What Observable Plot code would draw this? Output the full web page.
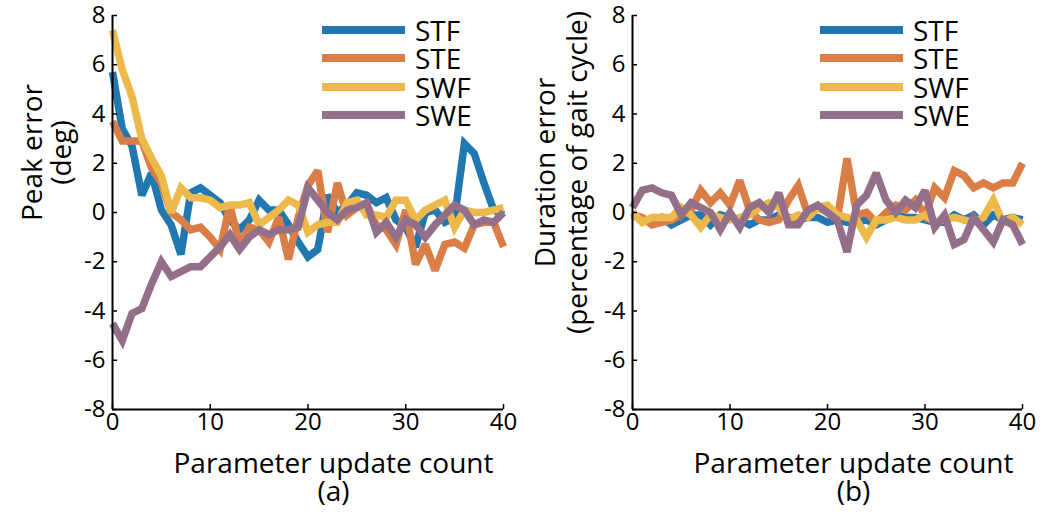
<!DOCTYPE html>
<html><head><meta charset="utf-8">
<script src="https://cdn.jsdelivr.net/npm/d3@7"></script>
<script src="https://cdn.jsdelivr.net/npm/@observablehq/plot@0.6"></script>
<style>
body{margin:0;background:#fff;}
#wrap{display:flex;width:1047px;height:512px;position:relative;}
.panel{position:relative;}
.legend{position:absolute;font-family:"Open Sans",sans-serif;font-size:28px;line-height:26px;color:#000;}
.row{display:flex;align-items:center;height:28.3px;}
.row span{display:block;line-height:26px;height:26px;}
.sw{width:83px;height:8px;margin-right:10px;}
</style>
</head><body><div id="wrap"></div>
<script>
const counts = [0,1,2,3,4,5,6,7,8,9,10,11,12,13,14,15,16,17,18,19,20,21,22,23,24,25,26,27,28,29,30,31,32,33,34,35,36,37,38,39,40];
const seriesNames = ["STF","STE","SWF","SWE"];
const seriesColors = ["#2177b0","#d97e47","#eeb94b","#946f89"];
const yTicks = [-8,-6,-4,-2,0,2,4,6,8];
const xTicks = [0,10,20,30,40];

// Panel (a): peak error (deg)
const peakSTF = [5.7,3.4,2.7,0.7,1.6,0.1,-0.5,-1.7,0.8,1.0,0.7,0.4,-0.3,-0.7,-0.3,0.5,0.1,0.1,-0.5,-1.2,-1.8,-1.5,0.7,0.0,0.3,0.8,0.7,0.4,0.6,-0.3,-0.6,-1.4,0.0,0.1,-0.4,-0.2,2.8,2.4,1.2,0.1,-0.1];
const peakSTE = [3.7,2.9,2.9,2.9,1.8,1.2,0.0,-0.3,-0.7,-0.6,-1.0,-1.5,0.3,-1.3,-0.6,-0.7,-1.2,-0.2,-1.9,-0.2,1.1,1.7,-0.8,1.2,-0.1,0.2,0.3,-0.5,-0.7,-1.3,0.1,-2.1,-1.3,-2.35,-1.3,-1.2,-1.45,-0.5,-0.4,-0.4,-1.4];
const peakSWF = [7.4,5.8,4.7,3.0,2.2,1.5,0.0,1.0,0.6,0.6,0.5,0.2,0.3,0.3,0.4,-0.5,-0.2,0.1,0.5,0.3,-0.8,-0.5,-0.4,-0.4,0.4,0.5,-0.1,-0.1,-0.2,0.5,0.5,-0.3,0.1,0.3,0.5,-0.6,0.1,0.0,0.0,0.1,0.2];
const peakSWE = [-4.5,-5.2,-4.1,-3.9,-2.9,-2.0,-2.6,-2.4,-2.2,-2.2,-1.8,-1.4,-0.9,-1.5,-1.0,-0.7,-0.9,-0.7,-0.7,-0.6,1.0,0.5,0.0,-0.3,0.1,0.2,0.4,-0.8,-0.4,-1.0,-0.3,-0.5,-1.0,-0.5,-0.1,0.3,0.1,-0.5,-0.3,-0.4,0.0];

// Panel (b): duration error (percentage of gait cycle)
const durSTF = [-0.1,-0.3,-0.3,-0.2,-0.5,-0.3,-0.1,-0.1,-0.5,-0.1,-0.2,-0.3,-0.5,-0.3,-0.3,-0.1,-0.2,-0.3,-0.2,-0.2,-0.4,-0.3,-0.4,-0.4,-0.3,-0.5,-0.3,-0.1,-0.2,-0.2,-0.3,-0.4,-0.4,-0.1,-0.3,-0.1,-0.5,-0.1,-0.3,-0.2,-0.3];
const durSTE = [-0.1,-0.2,-0.5,-0.4,-0.3,-0.1,0.1,0.9,0.4,0.8,0.3,1.3,0.1,-0.3,-0.4,-0.3,0.5,1.1,-0.1,0.2,0.0,-0.3,2.2,-0.1,0.0,-0.4,0.0,0.3,0.1,0.5,-0.1,1.0,0.6,1.7,1.5,1.0,1.2,1.0,1.2,1.2,2.0];
const durSWF = [0.0,-0.4,-0.2,-0.2,-0.2,0.2,-0.1,-0.6,-0.1,-0.2,-0.3,-0.2,-0.1,0.2,0.4,0.2,-0.3,-0.1,-0.2,0.2,0.3,-0.1,-0.2,-0.3,-1.0,-0.3,-0.3,-0.2,-0.3,-0.3,-0.1,-0.4,-0.3,-0.2,-0.3,-0.4,-0.2,0.5,-0.4,-0.2,-0.5];
const durSWE = [0.2,0.9,1.0,0.8,0.7,-0.1,0.4,0.2,0.0,-0.7,0.0,-0.6,0.2,0.4,0.0,0.8,-0.5,-0.5,0.1,0.3,0.0,-0.3,-1.6,0.3,0.7,1.6,0.5,0.0,0.5,0.2,0.9,-0.6,-0.1,-1.3,-1.1,-0.2,-0.7,-1.2,-0.3,-0.5,-1.3];

function makeRows(arrays){
  const rows=[];
  seriesNames.forEach((s,i)=>counts.forEach((c,j)=>rows.push({series:s,x:c,y:arrays[i][j]})));
  return rows;
}

const FONT='"Open Sans",sans-serif';
function panel(o){
  const H=512, top=15, bottom=409;
  const plotW=o.width-o.marginLeft-o.marginRight;
  const rows=makeRows(o.arrays);
  const chart=Plot.plot({
    width:o.width,height:H,
    marginLeft:o.marginLeft,marginRight:o.marginRight,marginTop:top,marginBottom:H-bottom,
    style:{fontFamily:FONT,background:"#fff",color:"#000",overflow:"visible"},
    x:{domain:[0,40],ticks:xTicks},
    y:{domain:[-8,8],ticks:yTicks},
    color:{domain:seriesNames,range:seriesColors},
    marks:[
      Plot.line(rows,{x:"x",y:"y",z:"series",stroke:"series",strokeWidth:7.5,strokeLinejoin:"miter",strokeMiterlimit:2.5,strokeLinecap:"butt"}),
      Plot.tickY(yTicks,{y:d=>d,insetRight:plotW-5,stroke:"#000",strokeWidth:1.5}),
      Plot.tickX(xTicks,{x:d=>d,insetTop:bottom-top-5,stroke:"#000",strokeWidth:1.5}),
      Plot.ruleX([0],{stroke:"#000",strokeWidth:2}),
      Plot.ruleY([-8],{stroke:"#000",strokeWidth:2}),
      Plot.axisY({ticks:yTicks,tickSize:0,tickPadding:7,fontSize:24,label:null,tickFormat:d=>String(d)}),
      Plot.axisX({ticks:xTicks,tickSize:0,tickPadding:3,fontSize:24,label:null}),
      Plot.text([o.xLabel],{frameAnchor:"bottom-left",dx:o.xLabelX-o.marginLeft,dy:55,fontSize:28,textAnchor:"middle",lineAnchor:"middle"}),
      Plot.text([o.caption],{frameAnchor:"bottom-left",dx:o.xLabelX-o.marginLeft,dy:83,fontSize:28,textAnchor:"middle",lineAnchor:"middle"}),
      ...o.yLabels.map((t,i)=>Plot.text([t],{frameAnchor:"top-left",dx:o.yLabelX[i]-o.marginLeft,dy:o.yLabelY-top,rotate:-90,fontSize:28,textAnchor:"middle",lineAnchor:"middle"}))
    ]
  });
  const div=document.createElement("div");
  div.className="panel";div.style.width=o.width+"px";div.style.height=H+"px";
  div.appendChild(chart);
  const lg=document.createElement("div");
  lg.className="legend";lg.style.left=o.legendX+"px";lg.style.top="16px";
  seriesNames.forEach((s,i)=>{
    const r=document.createElement("div");r.className="row";
    const sw=document.createElement("div");sw.className="sw";sw.style.background=seriesColors[i];
    const t=document.createElement("span");t.textContent=s;
    r.appendChild(sw);r.appendChild(t);lg.appendChild(r);
  });
  div.appendChild(lg);
  return div;
}

const wrap=document.getElementById("wrap");
wrap.appendChild(panel({width:523,marginLeft:112,marginRight:20,arrays:[peakSTF,peakSTE,peakSWF,peakSWE],
  xLabel:"Parameter update count",caption:"(a)",xLabelX:333,yLabels:["Peak error","(deg)"],yLabelX:[33,62],yLabelY:152,legendX:322}));
wrap.appendChild(panel({width:524,marginLeft:109,marginRight:25,arrays:[durSTF,durSTE,durSWF,durSWE],
  xLabel:"Parameter update count",caption:"(b)",xLabelX:330,yLabels:["Duration error","(percentage of gait cycle)"],yLabelX:[23,55],yLabelY:172,legendX:297}));
</script>
</body></html>
